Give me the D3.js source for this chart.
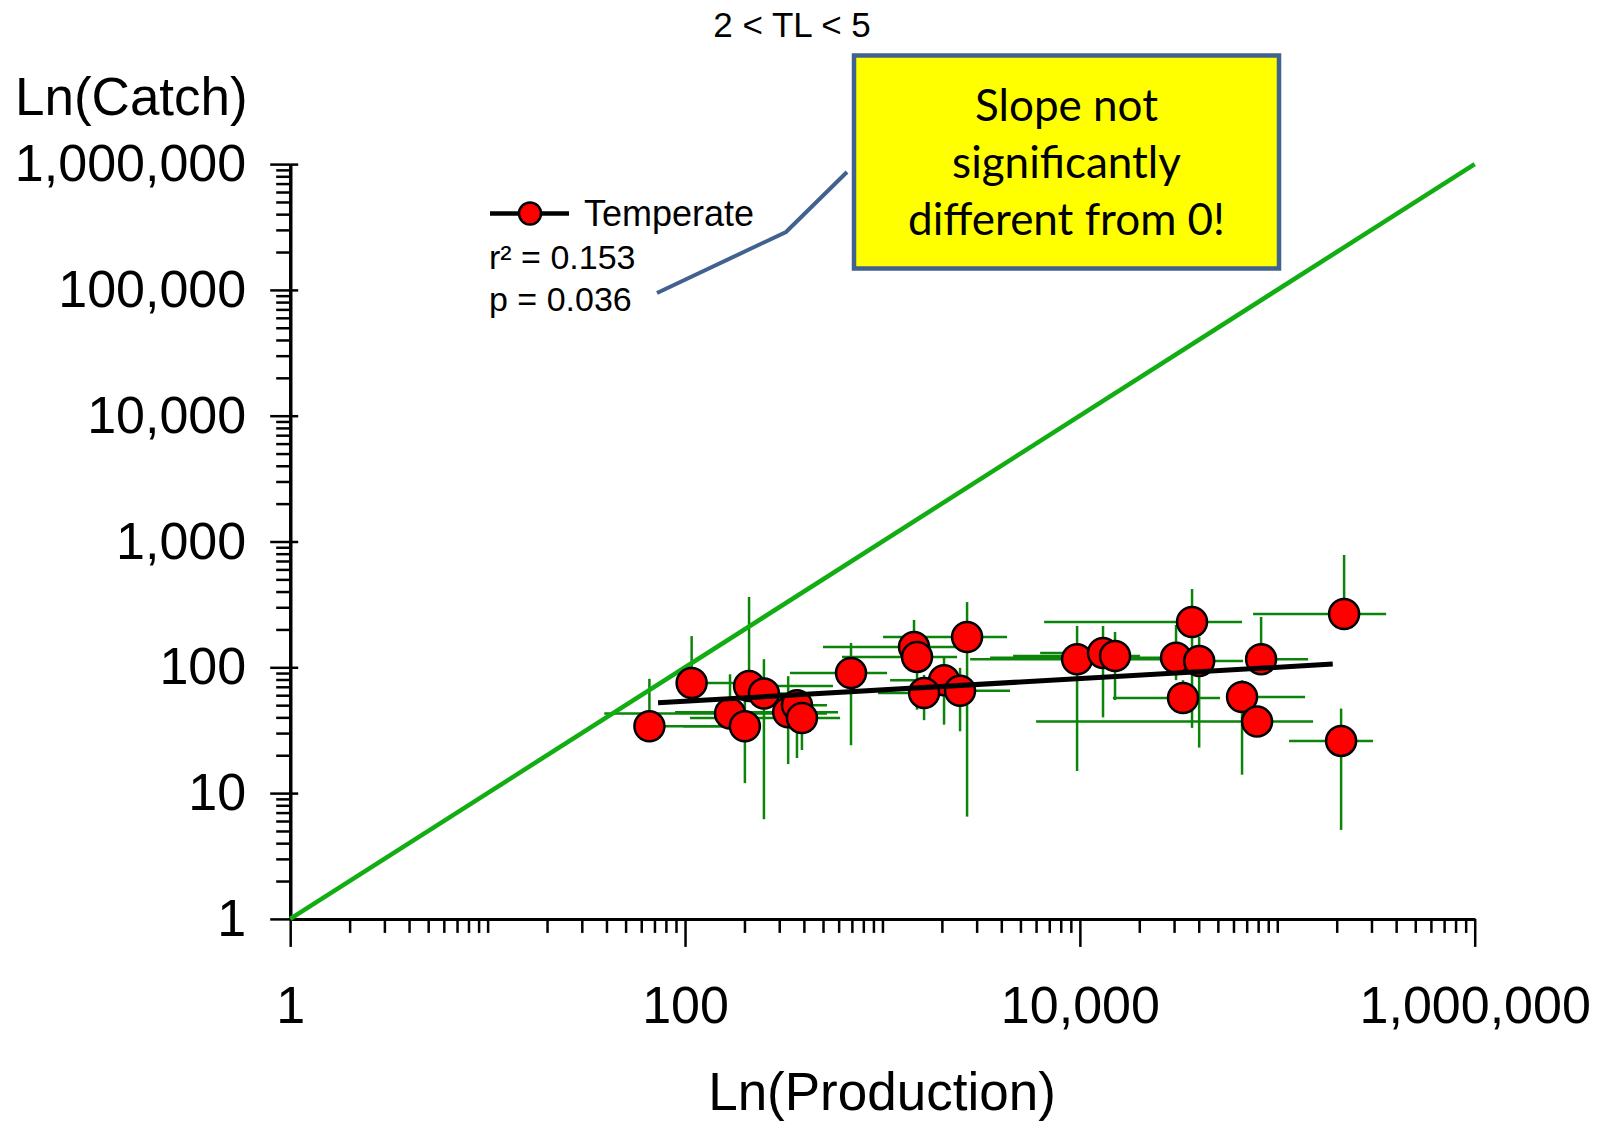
<!DOCTYPE html>
<html>
<head>
<meta charset="utf-8">
<script src="https://cdn.jsdelivr.net/npm/d3@7"></script>
<style>
  body { margin: 0; background: #fff; }
  svg { display: block; font-family: "Liberation Sans", Arial, sans-serif; }
</style>
</head>
<body>
<div id="viz"></div>
<script>
const width = 1608;
const height = 1122;
const plot = {left: 290.2, right: 1474.7, top: 164.1, bottom: 918.9};

// one row per stock: production, catch and their error ranges
const production = [66, 108, 169, 201, 211, 251, 333, 369, 391, 693,
	1445, 1497, 2683, 2051, 1625, 2472, 9680, 13100, 15070, 37000,
	30700, 40200, 33300, 82800, 66300, 79000, 218000, 210500];
const catches = [34, 75, 43, 34, 71, 62, 44, 50, 39.5, 90,
	145, 121, 174, 79, 62.5, 65, 116, 130, 123, 229,
	119, 112, 57, 116, 58, 37, 265, 26];
const productionLow = [59, 94, 39, 98, 190, 226, 89, 303, 106, 340,
	500, 624, 1007, 1093, 950, 2200, 2780, 6290, 4590, 6590,
	3510, 25500, 14700, 72800, 57700, 6000, 75400, 114700];
const productionHigh = [240, 175, 524, 240, 562, 340, 596, 524, 610, 1055,
	2388, 2388, 4277, 2472, 1846, 4430, 25500, 17960, 20200, 66300,
	48400, 67100, 51300, 143300, 138300, 151800, 356000, 305600];
const catchLow = [29, 66, 38, 12, 64, 6.2, 17, 19, 22, 24,
	125, 46, 6.5, 35, 38, 31, 15, 40, 55, 33,
	79, 23, 46, 95, 14, 29, 217, 5.1];
const catchHigh = [81, 177, 88, 55, 362, 116, 85, 66, 55, 156,
	238, 137, 330, 119, 87, 99, 213, 213, 191, 419,
	217, 174, 79, 251, 79, 46, 781, 47];

// fitted log-log regression, drawn over the range of the data
const fitProduction = [73, 191000];
const fitCatch = [52.3, 106];

const xMajorTicks = [1, 100, 10000, 1000000];
const yMajorTicks = [1, 10, 100, 1000, 10000, 100000, 1000000];
const stats = ['r\u00b2 = 0.153', 'p = 0.036'];
const calloutLines = ['Slope not', 'significantly', 'different from 0!'];

const data = production.map((p, i) => ({
	x: p, y: catches[i],
	x0: productionLow[i], x1: productionHigh[i],
	y0: catchLow[i], y1: catchHigh[i]
}));

const xScale = d3.scaleLog().domain([1, 1e6]).range([plot.left, plot.right]);
const yScale = d3.scaleLog().domain([1, 1e6]).range([plot.bottom, plot.top]);
const fmt = d3.format(',');

const svg = d3.select('#viz')
	.append('svg')
	.attr('width', width)
	.attr('height', height)
	.attr('viewBox', [0, 0, width, height]);

const styleAxis = g => {
	g.select('.domain').attr('stroke-width', 3);
	g.selectAll('.tick line').attr('stroke-width', 2.5);
	g.selectAll('.tick text')
		.attr('font-size', 52)
		.attr('font-family', '"Liberation Sans", Arial, sans-serif')
		.attr('fill', '#000');
};

// x axis: long ticks every other decade, short ticks elsewhere
const xMinor = xScale.ticks().filter(v => !xMajorTicks.includes(v));
svg.append('g')
	.attr('transform', `translate(0,${plot.bottom})`)
	.call(d3.axisBottom(xScale).tickValues(xMinor).tickSize(14).tickSizeOuter(0).tickFormat(''))
	.call(styleAxis);
svg.append('g')
	.attr('transform', `translate(0,${plot.bottom})`)
	.call(d3.axisBottom(xScale).tickValues(xMajorTicks).tickSize(28).tickSizeOuter(0)
		.tickPadding(39).tickFormat(fmt))
	.call(styleAxis);

// y axis: every decade labelled
const yMinor = yScale.ticks().filter(v => !yMajorTicks.includes(v));
svg.append('g')
	.attr('transform', `translate(${plot.left},0)`)
	.call(d3.axisLeft(yScale).tickValues(yMinor).tickSize(14).tickSizeOuter(0).tickFormat(''))
	.call(styleAxis);
svg.append('g')
	.attr('transform', `translate(${plot.left},0)`)
	.call(d3.axisLeft(yScale).tickValues(yMajorTicks).tickSize(20).tickSizeOuter(0)
		.tickPadding(24).tickFormat(fmt))
	.call(styleAxis);
svg.append('g')
	.attr('transform', `translate(${plot.left},0)`)
	.call(d3.axisRight(yScale).tickValues(yMajorTicks).tickSize(8).tickSizeOuter(0).tickFormat(''))
	.call(styleAxis);

// axis titles and panel title
svg.append('text')
	.attr('x', 15)
	.attr('y', 115)
	.attr('font-size', 53)
	.text('Ln(Catch)');
svg.append('text')
	.attr('x', 882)
	.attr('y', 1110)
	.attr('text-anchor', 'middle')
	.attr('font-size', 53)
	.text('Ln(Production)');
svg.append('text')
	.attr('x', 792)
	.attr('y', 37)
	.attr('text-anchor', 'middle')
	.attr('font-size', 35)
	.text('2 < TL < 5');

// error bars
const bars = svg.append('g')
	.attr('stroke', '#0a850a')
	.attr('stroke-width', 2.5);
bars.selectAll('.hbar')
	.data(data)
	.join('line')
	.attr('class', 'hbar')
	.attr('x1', d => xScale(d.x0))
	.attr('x2', d => xScale(d.x1))
	.attr('y1', d => yScale(d.y))
	.attr('y2', d => yScale(d.y));
bars.selectAll('.vbar')
	.data(data)
	.join('line')
	.attr('class', 'vbar')
	.attr('x1', d => xScale(d.x))
	.attr('x2', d => xScale(d.x))
	.attr('y1', d => yScale(d.y0))
	.attr('y2', d => yScale(d.y1));

// 1:1 line
svg.append('line')
	.attr('x1', xScale(1))
	.attr('y1', yScale(1))
	.attr('x2', xScale(1e6))
	.attr('y2', yScale(1e6))
	.attr('stroke', '#12ad12')
	.attr('stroke-width', 4.5);

svg.append('g')
	.selectAll('circle')
	.data(data)
	.join('circle')
	.attr('cx', d => xScale(d.x))
	.attr('cy', d => yScale(d.y))
	.attr('r', 15)
	.attr('fill', '#ff0000')
	.attr('stroke', '#000')
	.attr('stroke-width', 2.5);

// regression line
svg.append('path')
	.attr('d', d3.line()(fitProduction.map((p, i) => [xScale(p), yScale(fitCatch[i])])))
	.attr('stroke', '#000')
	.attr('stroke-width', 5)
	.attr('fill', 'none');

// legend
const legend = svg.append('g');
legend.append('line')
	.attr('x1', 490).attr('x2', 569)
	.attr('y1', 213.5).attr('y2', 213.5)
	.attr('stroke', '#000')
	.attr('stroke-width', 4.5);
legend.append('circle')
	.attr('cx', 530).attr('cy', 213.5)
	.attr('r', 11)
	.attr('fill', '#ff0000')
	.attr('stroke', '#000')
	.attr('stroke-width', 2.5);
legend.append('text')
	.attr('x', 584)
	.attr('y', 225.5)
	.attr('font-size', 36)
	.text('Temperate');
legend.selectAll('.stat')
	.data(stats)
	.join('text')
	.attr('class', 'stat')
	.attr('x', 489)
	.attr('y', (d, i) => 268.5 + i * 42)
	.attr('font-size', 34)
	.text(d => d);

// callout
svg.append('polyline')
	.attr('points', '657,293 786,232 847,172')
	.attr('fill', 'none')
	.attr('stroke', '#41618f')
	.attr('stroke-width', 4);
svg.append('rect')
	.attr('x', 854)
	.attr('y', 55.5)
	.attr('width', 425)
	.attr('height', 213)
	.attr('fill', '#ffff00')
	.attr('stroke', '#41618f')
	.attr('stroke-width', 4.5);
svg.append('g')
	.selectAll('text')
	.data(calloutLines)
	.join('text')
	.attr('x', 1066.5)
	.attr('y', (d, i) => 121 + i * 57)
	.attr('text-anchor', 'middle')
	.attr('font-family', 'Lato, "Open Sans", sans-serif')
	.attr('font-size', 44)
	.text(d => d);
</script>
</body>
</html>
